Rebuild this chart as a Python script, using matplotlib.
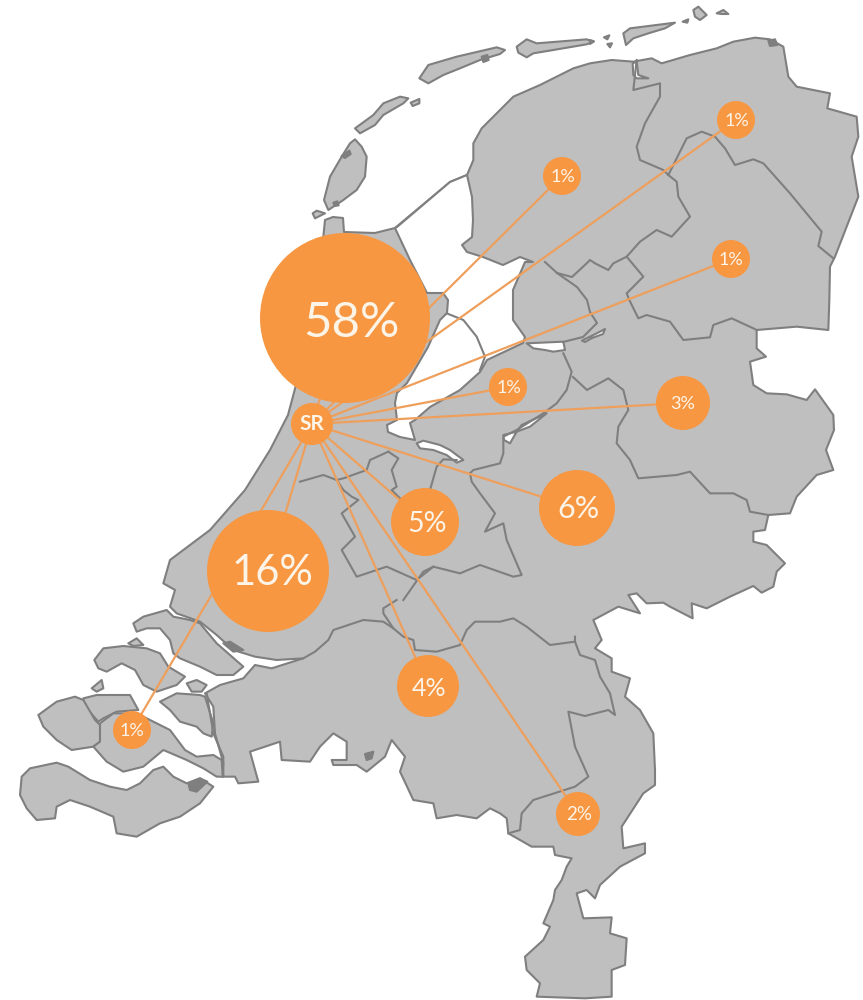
import matplotlib
matplotlib.use("Agg")
import matplotlib.pyplot as plt
from matplotlib.patches import Circle

plt.rcParams["font.family"] = ["Lato", "DejaVu Sans"]

LAND = "#bfbfbf"
EDGE = "#7f7f7f"
ORANGE = "#f79742"
LINK = "#ee9f5c"
TEXT = "#fdf4e8"

# bubbles: label, centre, radius, font size
labels = ["58%", "16%", "6%", "5%", "4%", "3%", "2%", "1%", "1%", "1%", "1%", "1%"]
bubble_x = [345, 268, 577, 425, 428, 683, 578, 562, 736, 731, 508, 132]
bubble_y = [318, 571, 508, 522, 686, 403, 814, 176, 120, 259, 387, 730]
bubble_r = [85, 61, 38, 34, 31, 27, 22, 19, 19, 19, 19, 19]
label_size = [35.5, 30, 22, 20.5, 18, 13, 13.5, 13, 13, 13, 13, 13]
label_dx = [6, 4, 1, 2, 1, 0, 1, 1, 1, 0, 1, 0]
label_dy = [5, 2, 1, 2, 2, 1, 1, 1, 1, 1, 1, 1]
hub = (312, 424)


def crop(points, x0, y0):
    # points read from a 3x zoom, back to picture pixels
    return [(x0 + x / 3, y0 + y / 3) for x, y in points]


coast = (
    [(170, 560), (210, 530), (245, 490), (270, 450), (288, 415), (300, 370), (310, 300), (323, 240),
     (325, 220), (333, 217), (343, 218), (344, 232), (375, 233), (395, 228), (450, 182), (467, 175)]
    + crop([(520, 480), (520, 430), (545, 385), (600, 330), (640, 290), (720, 255), (820, 205), (870, 190)], 300, 0)
    + crop([(65, 180), (130, 185), (185, 175), (215, 190), (300, 165), (380, 145), (430, 125), (495, 113),
            (540, 118), (580, 140), (595, 230), (620, 260), (720, 280), (712, 325), (800, 350), (805, 410),
            (785, 470), (805, 590), (770, 680), (735, 770), (720, 800), (718, 900)], 590, 0)
    + crop([(715, 90), (620, 80), (500, 90), (500, 145), (528, 170), (480, 185), (490, 255), (530, 280),
            (590, 283), (650, 300), (675, 268), (730, 345), (732, 390), (708, 450), (730, 510), (680, 525),
            (620, 590), (600, 640), (535, 645), (525, 690), (490, 695), (490, 725), (530, 735), (585, 790),
            (560, 815), (550, 860), (515, 878), (490, 858), (420, 890), (350, 925)], 590, 300)
    + crop([(575, 70), (578, 115), (510, 80), (490, 68),
            (440, 70), (410, 40), (385, 45), (420, 100), (355, 80), (280, 120), (305, 180), (285, 205),
            (335, 235), (335, 275), (390, 295), (375, 350), (420, 390), (460, 460), (465, 570), (465, 615),
            (430, 640), (365, 740), (370, 805), (435, 790), (435, 820), (360, 860), (300, 915), (285, 955),
            (260, 930), (230, 940), (250, 1015), (335, 1012), (330, 1060), (380, 1075), (375, 1155),
            (335, 1170), (335, 1250), (255, 1255), (110, 1250), (120, 1210), (80, 1170), (75, 1130),
            (130, 1080), (150, 1040), (130, 1030), (160, 960), (165, 930), (185, 900), (200, 860),
            (215, 835), (165, 825), (160, 800), (95, 800), (25, 760), (20, 715), (0, 700)], 500, 580)
    + crop([(870, 625), (830, 655), (770, 645), (710, 655), (700, 610), (640, 600), (600, 515), (615, 470),
            (575, 420), (555, 470), (500, 515), (470, 495), (400, 495), (395, 480), (440, 480), (440, 425),
            (400, 400), (360, 440), (330, 485), (245, 480), (240, 425), (150, 455), (175, 545), (115, 550),
            (105, 530), (65, 530), (70, 490), (45, 400), (40, 320), (15, 280), (60, 255), (130, 235),
            (165, 195), (215, 205), (310, 175), (230, 180), (165, 170), (100, 150), (50, 105), (0, 65)], 200, 600)
    + crop([(530, 160), (510, 140), (525, 90), (490, 70)], 0, 560)
)

# islands
z3_islands = [
    # Goeree-Overflakkee
    [(400, 190), (430, 170), (500, 150), (520, 170), (570, 180), (600, 190), (650, 250), (730, 320),
     (700, 345), (650, 345), (600, 320), (540, 295), (520, 280), (510, 240), (480, 205), (440, 205), (410, 215)],
    # Schouwen-Duiveland
    [(283, 300), (310, 265), (370, 258), (440, 265), (480, 280), (505, 320), (555, 350), (530, 375),
     (470, 395), (430, 375), (405, 330), (365, 310), (320, 335), (295, 325)],
    [(560, 370), (590, 360), (620, 375), (605, 395), (575, 395)],
    [(385, 250), (410, 235), (430, 255), (400, 258)],
    [(275, 385), (305, 360), (310, 385), (290, 395)],
    # Noord-Beveland
    [(250, 415), (290, 405), (390, 405), (415, 450), (350, 455), (310, 475), (295, 485), (255, 440)],
    # Walcheren
    [(115, 465), (170, 425), (225, 410), (250, 420), (285, 480), (300, 495), (300, 545), (280, 560),
     (215, 570), (170, 540), (130, 500)],
    # Zuid-Beveland
    [(300, 490), (340, 460), (410, 460), (470, 490), (510, 510), (555, 570), (590, 590), (640, 585),
     (665, 600), (668, 650), (650, 650), (610, 625), (560, 600), (490, 570), (430, 620), (370, 635),
     (320, 605), (280, 560), (300, 545)],
    # Tholen side
    [(480, 425), (530, 400), (600, 405), (615, 410), (640, 490), (635, 530), (610, 520), (590, 500),
     (540, 485), (510, 450)],
    # Zeeuws-Vlaanderen
    [(65, 650), (90, 625), (170, 608), (205, 620), (270, 660), (330, 680), (380, 690), (420, 670),
     (460, 630), (490, 620), (520, 650), (560, 670), (600, 655), (640, 680), (600, 730), (540, 770),
     (480, 790), (410, 830), (350, 820), (340, 770), (270, 740), (210, 720), (170, 740), (165, 775),
     (110, 780), (80, 745), (60, 705)],
]
z1_islands = [
    [(165, 418), (185, 440), (200, 470), (195, 530), (170, 570), (130, 600), (85, 630), (72, 600),
     (90, 530), (125, 470), (150, 430)],
    [(38, 640), (50, 632), (75, 640), (45, 655)],
    [(165, 385), (220, 345), (250, 310), (300, 290), (325, 295), (310, 310), (250, 345), (225, 375), (180, 400)],
    [(332, 308), (358, 297), (358, 310), (338, 318)],
    [(358, 235), (385, 195), (470, 170), (590, 142), (615, 150), (600, 162), (540, 180), (480, 205),
     (430, 225), (385, 250)],
    [(650, 140), (680, 118), (710, 130), (860, 118), (880, 125), (860, 133), (760, 150), (700, 160),
     (680, 172), (655, 158)],
]
z6_islands = [
    [(100, 100), (120, 85), (255, 68), (225, 85), (175, 100), (130, 115), (108, 135)],
    [(310, 30), (325, 20), (350, 45), (330, 60), (315, 50)],
    [(380, 40), (400, 30), (415, 42), (395, 42)],
    [(278, 65), (295, 58), (292, 68)],
    [(42, 112), (58, 106), (52, 118)],
    [(52, 132), (66, 130), (60, 142)],
    [(0, 120), (12, 124), (0, 132)],
]

# open water on top of the land
ijsselmeer = (
    [(397, 227), (450, 182), (467, 175), (472, 197), (473, 220), (472, 237), (462, 245), (467, 252),
     (483, 257), (503, 265), (520, 257), (533, 262), (525, 262), (513, 290), (513, 320), (525, 337),
     (523, 343), (487, 360), (480, 372), (460, 390), (430, 407), (415, 420), (410, 423), (415, 440),
     (400, 437), (388, 432), (387, 425), (397, 420), (395, 403), (397, 393), (407, 383), (428, 347),
     (440, 320), (447, 313), (448, 300), (443, 293), (427, 293), (410, 260), (395, 228)]
)
z2_water = [
    [(680, 130), (790, 125), (795, 150), (760, 155), (735, 150), (700, 145)],
    [(846, 122), (900, 95), (915, 87), (909, 102), (876, 114), (855, 126)],
    [(610, 405), (650, 395), (665, 375), (740, 340), (690, 380), (650, 395), (630, 430), (612, 420)],
    [(350, 430), (370, 422), (420, 435), (450, 450), (490, 480), (470, 488), (440, 465), (400, 450), (360, 445)],
]
z6_water = [[(128, 190), (140, 185), (145, 225), (175, 235), (140, 235), (130, 225)]]

# small dark mud flats
z1_flats = [[(125, 468), (148, 452), (152, 462), (135, 474)], [(100, 608), (112, 604), (116, 616), (104, 618)],
            [(545, 170), (562, 165), (566, 180), (550, 186)]]
z3_flats = [[(565, 670), (600, 655), (622, 665), (590, 695), (570, 690)]]
z4_flats = [[(495, 462), (520, 455), (515, 475), (500, 480)], [(70, 130), (90, 125), (130, 150), (100, 155)]]
z6_flats = [[(535, 122), (555, 118), (562, 135), (540, 138)]]

# province borders
borders = [
    crop([(140, 180), (130, 270), (210, 250), (210, 290), (165, 370), (140, 440), (150, 480), (220, 510),
          (235, 525), (260, 545), (265, 590), (300, 650), (245, 710), (200, 690), (150, 725), (110, 770),
          (70, 790), (55, 810), (15, 790), (0, 780)], 590, 0) + [(587, 263), (572, 277), (557, 273), (545, 262)],
    [(557, 273), (577, 287), (587, 300), (590, 312), (597, 323), (583, 337), (563, 342)],
    crop([(235, 525), (265, 465), (290, 415), (335, 395), (375, 410), (405, 445), (435, 495), (490, 478),
          (520, 490), (600, 580), (695, 695), (685, 738), (730, 775)], 590, 0),
    crop([(110, 770), (160, 830), (110, 880), (118, 900)], 590, 0)
    + crop([(118, 0), (145, 55), (170, 45), (240, 65), (280, 120), (360, 112), (370, 75), (425, 55),
            (490, 85), (500, 90)], 590, 300),
    [(573, 377), (587, 390)]
    + crop([(0, 265), (55, 235), (100, 270), (115, 330), (85, 380), (80, 430), (120, 480), (145, 535),
            (260, 525), (300, 515), (360, 580), (430, 580), (470, 600), (480, 635), (535, 645)], 590, 300),
    # Flevoland east shore
    crop([(790, 160), (815, 215), (800, 270), (770, 310), (730, 340), (650, 390), (610, 410), (610, 460),
          (600, 490), (520, 510), (510, 520)], 300, 300),
    # Markermeer dyke
    crop([(440, 40), (490, 60), (530, 110), (555, 170), (540, 210)], 300, 300),
    # Utrecht and neighbours
    crop([(510, 520), (515, 545), (540, 580), (585, 640), (555, 695), (610, 670), (620, 720), (665, 825),
          (640, 830), (540, 795), (480, 820), (400, 800), (370, 815), (345, 850), (310, 900)], 300, 300),
    crop([(590, 0), (550, 25), (550, 40), (580, 85)], 200, 600),
    crop([(265, 455), (210, 480), (200, 510), (130, 535), (110, 540), (70, 525), (0, 545)], 300, 300),
    crop([(265, 455), (295, 475), (275, 510), (290, 560), (275, 570), (300, 595)], 300, 300),
    crop([(390, 570), (410, 500), (430, 478), (470, 480)], 300, 300),
    crop([(110, 540), (130, 570), (155, 590), (175, 600), (125, 640), (165, 710), (125, 750), (170, 830),
          (260, 800), (350, 840), (400, 800)], 300, 300),
    # rivers south of Gelderland
    crop([(310, 175), (345, 155), (385, 120), (400, 90), (490, 60), (550, 65), (580, 85), (610, 110),
          (640, 120), (645, 150), (710, 155), (780, 135), (800, 90), (825, 65), (875, 65), (900, 65)], 200, 600)
    + crop([(40, 115), (80, 140), (150, 195), (225, 185)], 500, 580),
    # Limburg
    crop([(225, 170), (225, 185), (240, 225), (285, 240), (300, 290), (330, 340), (345, 405), (325, 390),
          (255, 408), (205, 395), (225, 500), (265, 590), (225, 620), (100, 660), (65, 700), (60, 750),
          (25, 760)], 500, 580),
    # Brabant west edge towards Zuid-Beveland
    crop([(620, 400), (640, 520), (670, 590), (670, 650)], 0, 560),
]

fig = plt.figure(figsize=(8.63, 10), dpi=100)
ax = fig.add_axes([0, 0, 1, 1])
ax.set_xlim(0, 863)
ax.set_ylim(1000, 0)
ax.axis("off")


def shape(points, color):
    xs, ys = zip(*points)
    ax.fill(xs, ys, facecolor=color, edgecolor=EDGE, linewidth=1.5, joinstyle="round", zorder=2)


shape(coast, LAND)
shape(ijsselmeer, "white")
for p in z2_water:
    shape(crop(p, 300, 300), "white")
for p in z6_water:
    shape(crop(p, 590, 0), "white")
for p in z3_islands:
    shape(crop(p, 0, 560), LAND)
for p in z1_islands:
    shape(crop(p, 300, 0), LAND)
for p in z6_islands:
    shape(crop(p, 590, 0), LAND)
for p in z1_flats:
    shape(crop(p, 300, 0), EDGE)
for p in z3_flats:
    shape(crop(p, 0, 560), EDGE)
for p in z4_flats:
    shape(crop(p, 200, 600), EDGE)
for p in z6_flats:
    shape(crop(p, 590, 0), EDGE)
for line in borders:
    xs, ys = zip(*line)
    ax.plot(xs, ys, color=EDGE, linewidth=1.5, solid_joinstyle="round", zorder=3)

for x, y in zip(bubble_x, bubble_y):
    ax.plot([hub[0], x], [hub[1], y], color=LINK, linewidth=1.6, zorder=4)

for x, y, r, name, size, dx, dy in zip(bubble_x, bubble_y, bubble_r, labels, label_size, label_dx, label_dy):
    ax.add_patch(Circle((x, y), r, facecolor=ORANGE, edgecolor="none", zorder=5))
    ax.text(x + dx, y + dy, name, color=TEXT, fontsize=size, ha="center", va="center", zorder=6)

ax.add_patch(Circle(hub, 21, facecolor=ORANGE, edgecolor="none", zorder=5))
ax.text(hub[0], hub[1], "SR", color=TEXT, fontsize=15, fontweight="bold", ha="center", va="center", zorder=6)

fig.savefig("out.png", dpi=100)
plt.close(fig)
